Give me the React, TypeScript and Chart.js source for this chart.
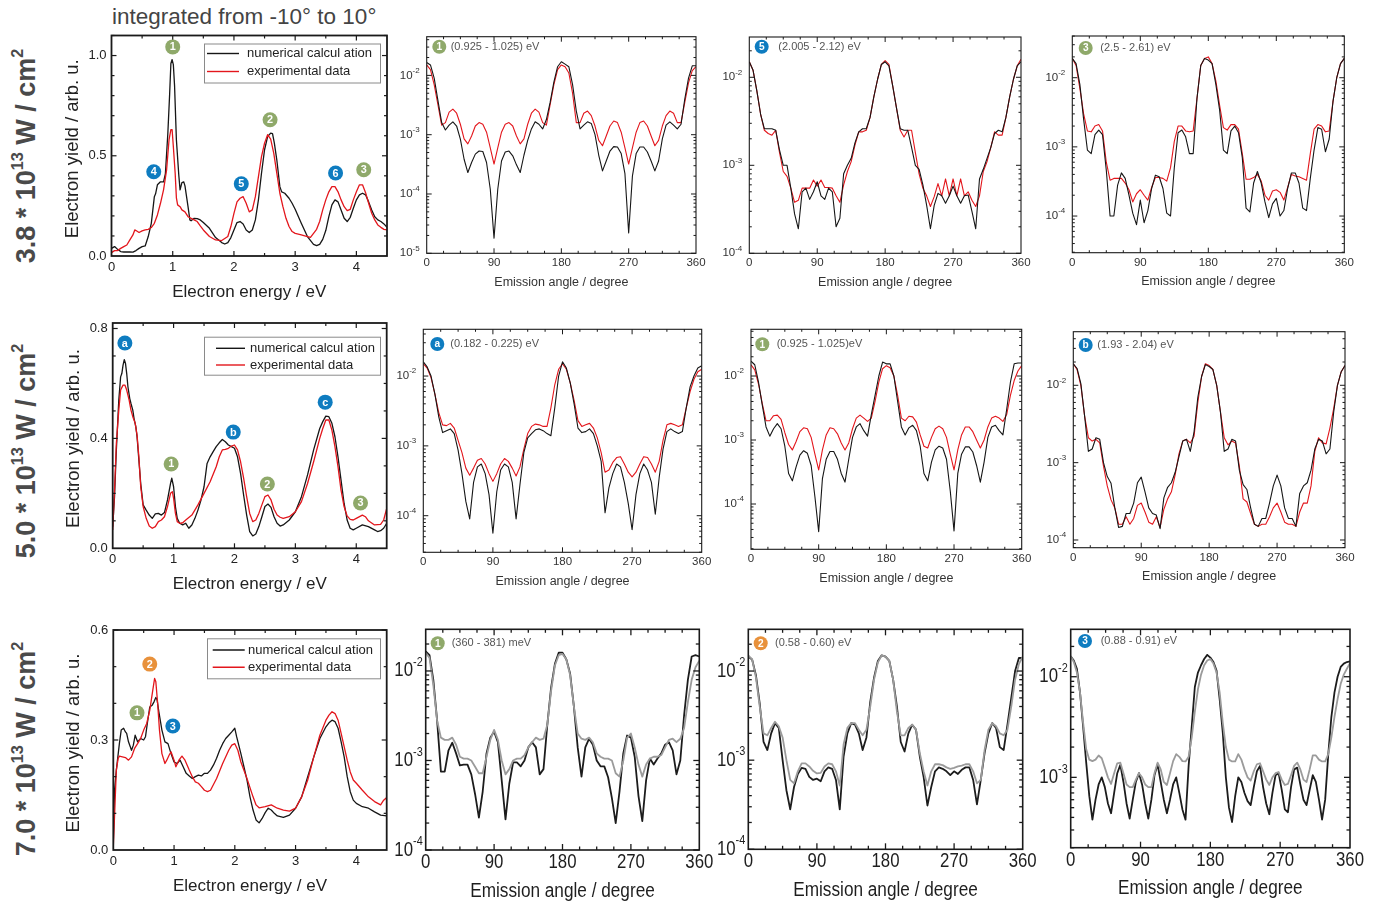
import React, { useEffect, useRef } from "react";
import { Chart, registerables } from "chart.js";

Chart.register(...registerables);

const W = 1382;
const H = 905;
const FONT = '"Liberation Sans", Arial, Helvetica, sans-serif';

const GREEN = "#8fa96a";
const BLUE = "#0e7cc0";
const ORANGE = "#e8913b";
const RED = "#e3161c";
const BLACK = "#161616";
const GRAY = "#9b9b9b";

// ---------- axes / categories ----------
const ANG5 = [
  0, 5, 10, 15, 20, 25, 30, 35, 40,
  45, 50, 55, 60, 65, 70, 75, 80, 85,
  90, 95, 100, 105, 110, 115, 120, 125, 130,
  135, 140, 145, 150, 155, 160, 165, 170, 175,
  180, 185, 190, 195, 200, 205, 210, 215, 220,
  225, 230, 235, 240, 245, 250, 255, 260, 265,
  270, 275, 280, 285, 290, 295, 300, 305, 310,
  315, 320, 325, 330, 335, 340, 345, 350, 355,
  360,
];
const ANG4 = [
  0, 4, 8, 12, 16, 20, 24, 28, 32, 36,
  40, 44, 48, 52, 56, 60, 64, 68, 72, 76,
  80, 84, 88, 92, 96, 100, 104, 108, 112, 116,
  120, 124, 128, 132, 136, 140, 144, 148, 152, 156,
  160, 164, 168, 172, 176, 180, 184, 188, 192, 196,
  200, 204, 208, 212, 216, 220, 224, 228, 232, 236,
  240, 244, 248, 252, 256, 260, 264, 268, 272, 276,
  280, 284, 288, 292, 296, 300, 304, 308, 312, 316,
  320, 324, 328, 332, 336, 340, 344, 348, 352, 356,
  360,
];
const ANGLE_TICKS = [0, 90, 180, 270, 360];
const ENERGY_TICKS = [0, 1, 2, 3, 4];
const Y_TICKS_1 = [0, 0.5, 1.0];
const Y_TICKS_2 = [0, 0.4, 0.8];
const Y_TICKS_3 = [0, 0.3, 0.6];

const LEGEND_LABELS = ["numerical calcul ation", "experimental data"];
const ROW_INTENSITY = ["3.8", "5.0", "7.0"];

// ---------- energy spectra (energy eV, yield arb. u.) ----------
type Pt = [number, number];

const P1_CALC: Pt[] = [
  [0, 0.038], [0.05, 0.047], [0.1, 0.033], [0.15, 0.022], [0.2, 0.02], [0.3, 0.02], [0.35, 0.019], [0.4, 0.027],
  [0.45, 0.038], [0.5, 0.047], [0.55, 0.05], [0.6, 0.097], [0.65, 0.163], [0.7, 0.296], [0.72, 0.31], [0.75, 0.355],
  [0.8, 0.37], [0.85, 0.37], [0.88, 0.41], [0.92, 0.61], [0.95, 0.81], [0.97, 0.96], [0.99, 0.98], [1.01, 0.955],
  [1.03, 0.85], [1.06, 0.58], [1.1, 0.4], [1.12, 0.33], [1.15, 0.366], [1.18, 0.37], [1.2, 0.35], [1.25, 0.246],
  [1.28, 0.18], [1.3, 0.176], [1.35, 0.188], [1.4, 0.186], [1.45, 0.18], [1.5, 0.167], [1.6, 0.138], [1.7, 0.092],
  [1.8, 0.067], [1.85, 0.06], [1.9, 0.067], [1.95, 0.092], [2.0, 0.13], [2.05, 0.167], [2.1, 0.172], [2.15, 0.16],
  [2.2, 0.13], [2.25, 0.117], [2.3, 0.13], [2.35, 0.18], [2.4, 0.28], [2.45, 0.413], [2.5, 0.53], [2.55, 0.596],
  [2.6, 0.613], [2.63, 0.61], [2.66, 0.563], [2.7, 0.48], [2.75, 0.346], [2.78, 0.32], [2.83, 0.313], [2.9, 0.288],
  [2.95, 0.263], [3.0, 0.233], [3.1, 0.163], [3.2, 0.097], [3.3, 0.058], [3.35, 0.052], [3.4, 0.058], [3.45, 0.083],
  [3.5, 0.127], [3.55, 0.196], [3.6, 0.255], [3.65, 0.28], [3.7, 0.27], [3.75, 0.23], [3.8, 0.188], [3.85, 0.172],
  [3.9, 0.193], [3.95, 0.238], [4.0, 0.28], [4.05, 0.305], [4.1, 0.313], [4.15, 0.305], [4.2, 0.27], [4.25, 0.23],
  [4.3, 0.196], [4.35, 0.18], [4.4, 0.172], [4.45, 0.16], [4.5, 0.143],
];
const P1_EXP: Pt[] = [
  [0, 0.017], [0.05, 0.027], [0.1, 0.027], [0.15, 0.038], [0.2, 0.047], [0.25, 0.055], [0.3, 0.08], [0.35, 0.105],
  [0.38, 0.13], [0.4, 0.127], [0.45, 0.117], [0.5, 0.125], [0.55, 0.13], [0.6, 0.133], [0.65, 0.142], [0.7, 0.163],
  [0.75, 0.205], [0.8, 0.263], [0.85, 0.33], [0.9, 0.43], [0.94, 0.58], [0.97, 0.63], [0.99, 0.63], [1.01, 0.546],
  [1.04, 0.413], [1.06, 0.29], [1.08, 0.255], [1.12, 0.246], [1.15, 0.23], [1.2, 0.22], [1.25, 0.196], [1.3, 0.188],
  [1.35, 0.18], [1.4, 0.172], [1.45, 0.15], [1.5, 0.13], [1.6, 0.097], [1.7, 0.08], [1.8, 0.077], [1.9, 0.097],
  [1.95, 0.147], [2.0, 0.213], [2.05, 0.27], [2.1, 0.288], [2.15, 0.296], [2.2, 0.263], [2.25, 0.22], [2.3, 0.23],
  [2.35, 0.296], [2.4, 0.396], [2.45, 0.496], [2.5, 0.563], [2.55, 0.605], [2.6, 0.583], [2.65, 0.513], [2.7, 0.413],
  [2.75, 0.313], [2.8, 0.246], [2.85, 0.188], [2.9, 0.147], [2.95, 0.122], [3.0, 0.113], [3.1, 0.105], [3.2, 0.097],
  [3.25, 0.093], [3.3, 0.113], [3.35, 0.133], [3.4, 0.172], [3.45, 0.23], [3.5, 0.28], [3.55, 0.32], [3.6, 0.346],
  [3.65, 0.346], [3.7, 0.32], [3.75, 0.28], [3.8, 0.246], [3.85, 0.226], [3.9, 0.233], [3.95, 0.28], [4.0, 0.32],
  [4.05, 0.355], [4.1, 0.355], [4.15, 0.316], [4.2, 0.263], [4.25, 0.213], [4.3, 0.18], [4.35, 0.155], [4.4, 0.143],
  [4.45, 0.133], [4.5, 0.13],
];
const P5_CALC: Pt[] = [
  [0, 0.079], [0.03, 0.188], [0.06, 0.358], [0.1, 0.54], [0.13, 0.624], [0.15, 0.636], [0.17, 0.667], [0.19, 0.687],
  [0.21, 0.673], [0.23, 0.636], [0.25, 0.588], [0.28, 0.545], [0.3, 0.527], [0.33, 0.503], [0.35, 0.473], [0.38, 0.442],
  [0.4, 0.406], [0.43, 0.321], [0.46, 0.236], [0.5, 0.158], [0.55, 0.139], [0.6, 0.121], [0.65, 0.109], [0.7, 0.125],
  [0.75, 0.127], [0.8, 0.121], [0.85, 0.13], [0.9, 0.176], [0.95, 0.236], [0.97, 0.255], [1.0, 0.224], [1.03, 0.152],
  [1.06, 0.109], [1.1, 0.091], [1.15, 0.085], [1.2, 0.091], [1.25, 0.073], [1.3, 0.085], [1.35, 0.109], [1.4, 0.139],
  [1.45, 0.176], [1.5, 0.224], [1.55, 0.309], [1.6, 0.333], [1.65, 0.352], [1.7, 0.37], [1.75, 0.384], [1.8, 0.396],
  [1.85, 0.388], [1.9, 0.376], [1.95, 0.37], [2.0, 0.364], [2.05, 0.333], [2.1, 0.273], [2.15, 0.194], [2.2, 0.121],
  [2.25, 0.061], [2.3, 0.045], [2.35, 0.052], [2.4, 0.079], [2.45, 0.115], [2.5, 0.152], [2.55, 0.161], [2.6, 0.149],
  [2.65, 0.115], [2.7, 0.091], [2.75, 0.081], [2.8, 0.085], [2.9, 0.103], [3.0, 0.133], [3.1, 0.188], [3.2, 0.267],
  [3.3, 0.358], [3.4, 0.436], [3.45, 0.461], [3.5, 0.481], [3.55, 0.479], [3.6, 0.455], [3.65, 0.406], [3.7, 0.333],
  [3.75, 0.248], [3.8, 0.164], [3.85, 0.103], [3.9, 0.073], [3.95, 0.067], [4.0, 0.073], [4.1, 0.085], [4.2, 0.079],
  [4.3, 0.067], [4.35, 0.061], [4.4, 0.064], [4.45, 0.073], [4.5, 0.091],
];
const P5_EXP: Pt[] = [
  [0, 0.067], [0.03, 0.212], [0.06, 0.382], [0.1, 0.503], [0.13, 0.576], [0.17, 0.594], [0.2, 0.594], [0.23, 0.576],
  [0.27, 0.539], [0.3, 0.503], [0.33, 0.479], [0.37, 0.455], [0.4, 0.412], [0.43, 0.333], [0.46, 0.224], [0.5, 0.152],
  [0.55, 0.109], [0.6, 0.081], [0.65, 0.073], [0.7, 0.079], [0.75, 0.097], [0.8, 0.103], [0.85, 0.115], [0.9, 0.152],
  [0.95, 0.2], [0.98, 0.206], [1.0, 0.182], [1.03, 0.127], [1.06, 0.097], [1.1, 0.091], [1.15, 0.093], [1.2, 0.103],
  [1.3, 0.121], [1.4, 0.158], [1.5, 0.2], [1.6, 0.242], [1.7, 0.297], [1.75, 0.333], [1.8, 0.358], [1.85, 0.36],
  [1.9, 0.364], [1.95, 0.372], [2.0, 0.376], [2.05, 0.358], [2.1, 0.315], [2.15, 0.255], [2.2, 0.188], [2.25, 0.127],
  [2.3, 0.097], [2.35, 0.103], [2.4, 0.127], [2.45, 0.158], [2.5, 0.188], [2.55, 0.194], [2.6, 0.176], [2.65, 0.142],
  [2.7, 0.121], [2.75, 0.113], [2.8, 0.109], [2.9, 0.115], [3.0, 0.133], [3.1, 0.17], [3.2, 0.236], [3.3, 0.315],
  [3.4, 0.4], [3.45, 0.436], [3.5, 0.467], [3.55, 0.467], [3.6, 0.43], [3.65, 0.37], [3.7, 0.297], [3.75, 0.212],
  [3.8, 0.152], [3.85, 0.118], [3.9, 0.105], [3.95, 0.103], [4.0, 0.109], [4.1, 0.121], [4.15, 0.115], [4.2, 0.1],
  [4.3, 0.085], [4.4, 0.087], [4.45, 0.103], [4.5, 0.145],
];
const P9_CALC: Pt[] = [
  [0, 0.018], [0.02, 0.163], [0.05, 0.218], [0.1, 0.29], [0.13, 0.327], [0.17, 0.332], [0.2, 0.322], [0.22, 0.318],
  [0.25, 0.295], [0.3, 0.272], [0.33, 0.286], [0.36, 0.313], [0.38, 0.304], [0.4, 0.295], [0.45, 0.304], [0.5, 0.3],
  [0.53, 0.309], [0.56, 0.345], [0.6, 0.39], [0.64, 0.395], [0.67, 0.404], [0.7, 0.416], [0.72, 0.41], [0.75, 0.377],
  [0.8, 0.327], [0.85, 0.295], [0.9, 0.29], [0.95, 0.263], [1.0, 0.24], [1.05, 0.236], [1.1, 0.245], [1.15, 0.227],
  [1.2, 0.209], [1.25, 0.202], [1.3, 0.195], [1.35, 0.2], [1.4, 0.204], [1.45, 0.202], [1.5, 0.209], [1.55, 0.209],
  [1.6, 0.218], [1.65, 0.232], [1.7, 0.25], [1.75, 0.272], [1.8, 0.29], [1.85, 0.304], [1.9, 0.313], [1.95, 0.322],
  [2.0, 0.332], [2.03, 0.309], [2.1, 0.263], [2.15, 0.227], [2.2, 0.191], [2.25, 0.145], [2.3, 0.109], [2.35, 0.082],
  [2.4, 0.074], [2.45, 0.086], [2.5, 0.102], [2.55, 0.114], [2.6, 0.109], [2.65, 0.1], [2.7, 0.093], [2.75, 0.091],
  [2.8, 0.089], [2.9, 0.095], [3.0, 0.114], [3.1, 0.145], [3.2, 0.2], [3.3, 0.254], [3.4, 0.304], [3.5, 0.336],
  [3.55, 0.347], [3.6, 0.354], [3.65, 0.35], [3.7, 0.332], [3.75, 0.295], [3.8, 0.254], [3.85, 0.2], [3.9, 0.159],
  [3.95, 0.136], [4.0, 0.127], [4.1, 0.118], [4.2, 0.114], [4.3, 0.104], [4.4, 0.095], [4.5, 0.093],
];
const P9_EXP: Pt[] = [
  [0, 0.009], [0.02, 0.09], [0.05, 0.218], [0.08, 0.25], [0.1, 0.256], [0.15, 0.254], [0.2, 0.252], [0.25, 0.245],
  [0.3, 0.254], [0.35, 0.277], [0.4, 0.29], [0.45, 0.304], [0.5, 0.327], [0.55, 0.345], [0.6, 0.381], [0.65, 0.436],
  [0.68, 0.468], [0.7, 0.459], [0.73, 0.4], [0.76, 0.327], [0.8, 0.263], [0.85, 0.236], [0.88, 0.245], [0.92, 0.259],
  [0.95, 0.268], [1.0, 0.245], [1.03, 0.227], [1.08, 0.245], [1.13, 0.256], [1.18, 0.245], [1.25, 0.218], [1.3, 0.2],
  [1.35, 0.186], [1.4, 0.182], [1.45, 0.173], [1.5, 0.163], [1.55, 0.159], [1.6, 0.163], [1.7, 0.195], [1.8, 0.236],
  [1.9, 0.272], [1.95, 0.286], [2.0, 0.29], [2.05, 0.272], [2.1, 0.24], [2.2, 0.195], [2.3, 0.145], [2.35, 0.123],
  [2.4, 0.115], [2.5, 0.118], [2.6, 0.123], [2.7, 0.114], [2.8, 0.109], [2.9, 0.106], [3.0, 0.114], [3.1, 0.145],
  [3.2, 0.191], [3.3, 0.254], [3.4, 0.313], [3.5, 0.354], [3.55, 0.368], [3.6, 0.377], [3.65, 0.372], [3.7, 0.354],
  [3.75, 0.318], [3.8, 0.282], [3.85, 0.245], [3.9, 0.213], [3.95, 0.191], [4.0, 0.182], [4.1, 0.163], [4.2, 0.145],
  [4.3, 0.132], [4.4, 0.123], [4.45, 0.136], [4.5, 0.143],
];

// ---------- angular distributions (on ANG5 / ANG4) ----------
const P2_CALC = [
  1.65e-2, 1.5e-2, 9e-3, 3.8e-3, 1.6e-3, 1.2e-3, 1.45e-3, 1.65e-3, 1.4e-3,
  8.4e-4, 3.85e-4, 2.3e-4, 3.4e-4, 4.7e-4, 5.3e-4, 5.2e-4, 3.4e-4, 1.2e-4,
  1.8e-5, 1.2e-4, 3.6e-4, 5.1e-4, 5.3e-4, 4.4e-4, 3.1e-4, 2.3e-4, 4.5e-4,
  8e-4, 1.25e-3, 1.65e-3, 1.5e-3, 1.25e-3, 1.8e-3, 3.5e-3, 7.7e-3, 1.4e-2,
  1.7e-2, 1.55e-2, 1.4e-2, 7e-3, 2.5e-3, 1.25e-3, 1.45e-3, 1.65e-3, 1.55e-3,
  1e-3, 4.5e-4, 2.45e-4, 3.6e-4, 5.3e-4, 6.3e-4, 6.2e-4, 4.8e-4, 2.2e-4,
  2.2e-5, 2e-4, 4.8e-4, 6.2e-4, 6.2e-4, 5.1e-4, 3.6e-4, 2.45e-4, 3.6e-4,
  8.5e-4, 1.45e-3, 1.65e-3, 1.45e-3, 1.25e-3, 1.5e-3, 4e-3, 9e-3, 1.45e-2,
  1.45e-2,
];
const P2_EXP = [
  1.5e-2, 1.25e-2, 7e-3, 3.2e-3, 1.45e-3, 1.6e-3, 2.4e-3, 2.7e-3, 2.3e-3,
  1.5e-3, 8.5e-4, 7e-4, 9.5e-4, 1.4e-3, 1.6e-3, 1.5e-3, 1.1e-3, 6e-4,
  3.2e-4, 6e-4, 1.1e-3, 1.5e-3, 1.6e-3, 1.4e-3, 9.5e-4, 7e-4, 8.5e-4,
  1.5e-3, 2.3e-3, 2.7e-3, 2.4e-3, 1.6e-3, 1.45e-3, 3.2e-3, 7e-3, 1.25e-2,
  1.5e-2, 1.4e-2, 1.1e-2, 5e-3, 1.6e-3, 1.6e-3, 2.3e-3, 2.5e-3, 2.1e-3,
  1.4e-3, 8e-4, 6.5e-4, 9.5e-4, 1.4e-3, 1.7e-3, 1.6e-3, 1.1e-3, 6e-4,
  3.2e-4, 6e-4, 1.1e-3, 1.6e-3, 1.7e-3, 1.4e-3, 9.5e-4, 6.5e-4, 8e-4,
  1.4e-3, 2.1e-3, 2.5e-3, 2.3e-3, 1.6e-3, 1.6e-3, 3.5e-3, 7.5e-3, 1.2e-2,
  1.4e-2,
];
const P3_CALC = [
  1.5e-2, 1.2e-2, 7e-3, 3.8e-3, 2.6e-3, 2.6e-3, 2.6e-3, 2.5e-3, 1.5e-3,
  1e-3, 1e-3, 5.5e-4, 2.8e-4, 1.9e-4, 5e-4, 5.5e-4, 4.1e-4, 5e-4,
  6.5e-4, 4.5e-4, 4.1e-4, 5.5e-4, 5e-4, 2e-4, 2.5e-4, 8e-4, 1e-3,
  1.2e-3, 1.8e-3, 2.4e-3, 2.6e-3, 2.6e-3, 3.5e-3, 6e-3, 9.5e-3, 1.4e-2,
  1.5e-2, 1.35e-2, 8e-3, 4.5e-3, 2.6e-3, 2.5e-3, 2.5e-3, 1.6e-3, 1e-3,
  9e-4, 6e-4, 3.5e-4, 1.9e-4, 3.5e-4, 4.8e-4, 4.5e-4, 3.7e-4, 4.5e-4,
  5.8e-4, 4.5e-4, 3.7e-4, 4.5e-4, 4.6e-4, 3e-4, 1.9e-4, 7e-4, 9e-4,
  1.2e-3, 1.6e-3, 2.3e-3, 2.5e-3, 2.4e-3, 3.5e-3, 6e-3, 9.5e-3, 1.35e-2,
  1.5e-2,
];
const P3_EXP = [
  1.5e-2, 1.2e-2, 7e-3, 3.8e-3, 2.5e-3, 2.3e-3, 2.2e-3, 2.5e-3, 1.4e-3,
  8.5e-4, 7.5e-4, 5.5e-4, 3.8e-4, 4e-4, 5.5e-4, 5.5e-4, 5.5e-4, 6.8e-4,
  5.8e-4, 6.8e-4, 5.6e-4, 5.6e-4, 5.5e-4, 4.5e-4, 3.8e-4, 6e-4, 8.5e-4,
  1.1e-3, 1.7e-3, 2.4e-3, 2.4e-3, 2.5e-3, 3.5e-3, 6e-3, 9.5e-3, 1.4e-2,
  1.55e-2, 1.4e-2, 8e-3, 4.5e-3, 2.5e-3, 2.1e-3, 2.5e-3, 2.5e-3, 1.4e-3,
  8e-4, 5.5e-4, 4.5e-4, 3.4e-4, 4.4e-4, 6.2e-4, 4.5e-4, 7e-4, 4.5e-4,
  7e-4, 4.5e-4, 7e-4, 4.5e-4, 5e-4, 4e-4, 3.4e-4, 4.5e-4, 8.5e-4,
  1.1e-3, 1.6e-3, 2.4e-3, 2.2e-3, 2.2e-3, 3.5e-3, 6e-3, 9.5e-3, 1.35e-2,
  1.6e-2,
];
const P4_CALC = [
  1.9e-2, 1.6e-2, 8e-3, 2.5e-3, 9e-4, 8e-4, 1.5e-3, 1.75e-3, 1.5e-3,
  4.6e-4, 1e-4, 1e-4, 2.8e-4, 4.2e-4, 3.5e-4, 2e-4, 1.1e-4, 7.5e-5,
  1.7e-4, 8e-5, 1.2e-4, 2.5e-4, 3.9e-4, 3.7e-4, 2.5e-4, 1.1e-4, 1e-4,
  5e-4, 1.6e-3, 1.75e-3, 1.4e-3, 8e-4, 8e-4, 5e-3, 1.5e-2, 1.9e-2,
  1.8e-2, 1.6e-2, 8e-3, 3.4e-3, 9e-4, 8e-4, 1.7e-3, 2e-3, 1.6e-3,
  7e-4, 1.3e-4, 1.15e-4, 3e-4, 4.4e-4, 3e-4, 1.6e-4, 9.5e-5, 1.5e-4,
  1.8e-4, 1e-4, 1.2e-4, 2.5e-4, 4.2e-4, 4.2e-4, 3e-4, 1.3e-4, 1.2e-4,
  3.5e-4, 9e-4, 1.9e-3, 1.8e-3, 8.5e-4, 1.3e-3, 4.5e-3, 1e-2, 1.6e-2,
  1.9e-2,
];
const P4_EXP = [
  1.9e-2, 1.5e-2, 7e-3, 3e-3, 1.7e-3, 1.65e-3, 2e-3, 2.1e-3, 1.7e-3,
  6e-4, 3.3e-4, 3.5e-4, 3.5e-4, 3.5e-4, 3e-4, 2.4e-4, 1.6e-4, 2.1e-4,
  2.4e-4, 2e-4, 1.7e-4, 2.6e-4, 3.6e-4, 3.6e-4, 3.5e-4, 3.2e-4, 5e-4,
  1.2e-3, 2e-3, 2e-3, 1.7e-3, 1.65e-3, 1.7e-3, 5e-3, 1.5e-2, 1.9e-2,
  2e-2, 1.6e-2, 9e-3, 4e-3, 1.9e-3, 1.75e-3, 2.1e-3, 2.1e-3, 1.8e-3,
  8e-4, 3.4e-4, 3.4e-4, 3.6e-4, 4e-4, 3.2e-4, 2e-4, 1.7e-4, 2.3e-4,
  2.4e-4, 2.2e-4, 1.7e-4, 2.6e-4, 4e-4, 3.8e-4, 3.7e-4, 3.5e-4, 3.3e-4,
  8e-4, 1.8e-3, 2.1e-3, 2e-3, 1.65e-3, 1.7e-3, 4.5e-3, 1e-2, 1.6e-2,
  1.9e-2,
];
const P6_CALC = [
  1.6e-2, 1.35e-2, 1e-2, 5.5e-3, 2.6e-3, 1.55e-3, 1.65e-3, 1.75e-3, 1.5e-3,
  8.7e-4, 4e-4, 1.6e-4, 9e-5, 3e-4, 5e-4, 5.5e-4, 4e-4, 2e-4,
  5.6e-5, 2.2e-4, 4.5e-4, 5.5e-4, 5e-4, 3e-4, 9e-5, 2.8e-4, 8e-4,
  1.3e-3, 1.5e-3, 1.7e-3, 1.75e-3, 1.65e-3, 1.5e-3, 1.4e-3, 3.5e-3, 1e-2,
  1.6e-2, 1.3e-2, 8e-3, 4e-3, 1.8e-3, 1.55e-3, 1.6e-3, 1.75e-3, 1.5e-3,
  1e-3, 6e-4, 1.1e-4, 2.5e-4, 4e-4, 5.5e-4, 5e-4, 3e-4, 1.5e-4,
  6.3e-5, 2e-4, 4e-4, 5.5e-4, 4.5e-4, 3e-4, 1.05e-4, 3.5e-4, 9e-4,
  1.6e-3, 1.75e-3, 1.6e-3, 1.5e-3, 1.6e-3, 3.5e-3, 7e-3, 1e-2, 1.3e-2,
  1.4e-2,
];
const P6_EXP = [
  1.5e-2, 1.3e-2, 9.5e-3, 5.5e-3, 3e-3, 2e-3, 1.95e-3, 2.1e-3, 1.8e-3,
  1.2e-3, 8e-4, 4.8e-4, 3.8e-4, 4.8e-4, 6.2e-4, 6.6e-4, 5.5e-4, 4e-4,
  3.1e-4, 4e-4, 5.5e-4, 6.6e-4, 6e-4, 4.8e-4, 3.7e-4, 5e-4, 9e-4,
  1.5e-3, 1.9e-3, 2.05e-3, 2e-3, 1.9e-3, 1.9e-3, 3.5e-3, 7.5e-3, 1.25e-2,
  1.5e-2, 1.25e-2, 8e-3, 4.5e-3, 2.3e-3, 1.9e-3, 2e-3, 2.1e-3, 1.8e-3,
  1.3e-3, 8e-4, 4.2e-4, 4.5e-4, 5.8e-4, 6.8e-4, 7e-4, 5.5e-4, 4.2e-4,
  3.6e-4, 4.2e-4, 5.5e-4, 7e-4, 6.8e-4, 5.5e-4, 4.2e-4, 6e-4, 1.2e-3,
  2e-3, 2.1e-3, 2e-3, 1.9e-3, 2e-3, 3.5e-3, 6e-3, 9e-3, 1.15e-2,
  1.25e-2,
];
const P7_CALC = [
  1.7e-2, 1.5e-2, 8e-3, 3.5e-3, 1.6e-3, 1.15e-3, 1.5e-3, 1.8e-3, 1.5e-3,
  8e-4, 3e-4, 2.3e-4, 3.8e-4, 5.8e-4, 6.8e-4, 6.2e-4, 4e-4, 1.3e-4,
  3.7e-5, 2.5e-4, 5e-4, 6.6e-4, 6.6e-4, 5e-4, 3e-4, 2.2e-4, 5e-4,
  1.1e-3, 1.6e-3, 1.8e-3, 1.4e-3, 1.15e-3, 2.5e-3, 5e-3, 1e-2, 1.65e-2,
  1.55e-2, 1.55e-2, 1e-2, 4e-3, 1.6e-3, 1.2e-3, 1.55e-3, 1.7e-3, 1.4e-3,
  8e-4, 3e-4, 2.3e-4, 4.5e-4, 7e-4, 8e-4, 7.5e-4, 5e-4, 1.6e-4,
  3.8e-5, 3e-4, 6e-4, 7.8e-4, 7.8e-4, 6.5e-4, 4e-4, 2.2e-4, 4.5e-4,
  1.1e-3, 1.6e-3, 1.7e-3, 1.4e-3, 1.2e-3, 3e-3, 8e-3, 1.55e-2, 1.6e-2,
  1.6e-2,
];
const P7_EXP = [
  1.5e-2, 1.25e-2, 7.5e-3, 3.7e-3, 2e-3, 2e-3, 2.4e-3, 2.45e-3, 2.1e-3,
  1.3e-3, 8.5e-4, 7e-4, 9.5e-4, 1.35e-3, 1.55e-3, 1.5e-3, 1.1e-3, 6e-4,
  3.4e-4, 7e-4, 1.2e-3, 1.55e-3, 1.5e-3, 1.25e-3, 9e-4, 7e-4, 9e-4,
  1.5e-3, 2.2e-3, 2.45e-3, 2.2e-3, 1.95e-3, 2.2e-3, 4e-3, 8e-3, 1.3e-2,
  1.45e-2, 1.35e-2, 1e-2, 5e-3, 2.2e-3, 2e-3, 2.35e-3, 2.3e-3, 1.9e-3,
  1.2e-3, 8e-4, 7.5e-4, 1.1e-3, 1.5e-3, 1.65e-3, 1.5e-3, 1.1e-3, 6e-4,
  3.4e-4, 7e-4, 1.2e-3, 1.6e-3, 1.6e-3, 1.35e-3, 1e-3, 7.5e-4, 1e-3,
  1.6e-3, 2.2e-3, 2.35e-3, 2.2e-3, 1.95e-3, 2.5e-3, 5e-3, 8.5e-3, 1.2e-2,
  1.45e-2,
];
const P8_CALC = [
  1.9e-2, 1.65e-2, 1.05e-2, 4e-3, 1.4e-3, 1.5e-3, 2.1e-3, 2e-3, 1e-3,
  6.6e-4, 5.4e-4, 2.6e-4, 1.45e-4, 1.5e-4, 2.2e-4, 2.2e-4, 3e-4, 5.5e-4,
  6.5e-4, 4.2e-4, 2.6e-4, 2.2e-4, 2.1e-4, 1.4e-4, 3.5e-4, 4.8e-4, 5.5e-4,
  7.5e-4, 1.2e-3, 1.9e-3, 2e-3, 1.4e-3, 2.5e-3, 7e-3, 1.3e-2, 1.85e-2,
  1.75e-2, 1.6e-2, 1e-2, 4.5e-3, 1.4e-3, 1.5e-3, 2e-3, 1.9e-3, 8e-4,
  5.2e-4, 4.5e-4, 2.6e-4, 1.6e-4, 1.5e-4, 1.9e-4, 1.9e-4, 3e-4, 5e-4,
  6.9e-4, 5e-4, 2.6e-4, 1.9e-4, 1.9e-4, 1.5e-4, 4e-4, 5e-4, 5.5e-4,
  8e-4, 1.5e-3, 2e-3, 1.9e-3, 1.3e-3, 1.5e-3, 4.5e-3, 1e-2, 1.5e-2,
  1.8e-2,
];
const P8_EXP = [
  1.9e-2, 1.6e-2, 1e-2, 4e-3, 2.1e-3, 1.9e-3, 2e-3, 1.8e-3, 9e-4,
  5e-4, 3.3e-4, 2.6e-4, 1.6e-4, 1.6e-4, 2e-4, 1.6e-4, 1.9e-4, 2.8e-4,
  3e-4, 2.3e-4, 1.7e-4, 1.6e-4, 2e-4, 1.45e-4, 2.5e-4, 3.4e-4, 4.2e-4,
  7e-4, 1.3e-3, 1.9e-3, 2e-3, 1.8e-3, 2.2e-3, 6e-3, 1.3e-2, 1.9e-2,
  1.8e-2, 1.6e-2, 1e-2, 4.5e-3, 2.1e-3, 1.7e-3, 1.9e-3, 1.8e-3, 9e-4,
  3.4e-4, 3.1e-4, 2.2e-4, 1.6e-4, 1.5e-4, 1.6e-4, 1.6e-4, 2e-4, 2.6e-4,
  3e-4, 2.3e-4, 1.7e-4, 1.6e-4, 1.6e-4, 1.5e-4, 2.3e-4, 3e-4, 3e-4,
  5e-4, 1.4e-3, 2.1e-3, 1.8e-3, 1.75e-3, 2.8e-3, 5e-3, 1e-2, 1.5e-2,
  1.8e-2,
];
const P10_CALC = [
  1.65e-2, 1.5e-2, 8e-3, 2.8e-3, 7.5e-4, 7.5e-4, 1.3e-3, 1.58e-3, 1.2e-3,
  8.8e-4, 9e-4, 9e-4, 7e-4, 4.2e-4, 2.3e-4, 4.5e-4, 1.2e-3, 1.8e-3,
  2.1e-3, 1.6e-3, 6e-4, 2.2e-4, 5.5e-4, 9.5e-4, 9.5e-4, 8.6e-4, 1e-3,
  1.4e-3, 1.6e-3, 1.4e-3, 7e-4, 8e-4, 2.5e-3, 6.5e-3, 1.2e-2, 1.6e-2,
  1.6e-2, 1.35e-2, 9.4e-3, 4e-3, 1.4e-3, 6.6e-4, 1.4e-3, 1.75e-3, 1.5e-3,
  1e-3, 8.6e-4, 8.6e-4, 6.5e-4, 3.8e-4, 2e-4, 4.5e-4, 1.2e-3, 1.9e-3,
  1.8e-3, 1.1e-3, 4e-4, 2.1e-4, 6e-4, 1.05e-3, 9e-4, 1.05e-3, 1.2e-3,
  1.5e-3, 1.6e-3, 1.3e-3, 7e-4, 1e-3, 3.2e-3, 8e-3, 1.45e-2, 1.5e-2,
  1.45e-2,
];
const P10_EXP = [
  1.6e-2, 1.4e-2, 7e-3, 2.8e-3, 1.8e-3, 1.7e-3, 1.7e-3, 1.8e-3, 1.5e-3,
  1.1e-3, 1.05e-3, 1.05e-3, 1e-3, 8.5e-4, 7.2e-4, 7.2e-4, 1.1e-3, 1.7e-3,
  2.2e-3, 1.7e-3, 1e-3, 7e-4, 8e-4, 1e-3, 1.05e-3, 1.05e-3, 1.15e-3,
  1.4e-3, 1.6e-3, 1.8e-3, 1.7e-3, 1.75e-3, 2.5e-3, 6e-3, 1.15e-2, 1.5e-2,
  1.55e-2, 1.35e-2, 9e-3, 4e-3, 2e-3, 1.75e-3, 1.7e-3, 1.8e-3, 1.6e-3,
  1.2e-3, 1.1e-3, 1.05e-3, 1.05e-3, 1e-3, 7.2e-4, 6.6e-4, 1e-3, 1.8e-3,
  2e-3, 1.4e-3, 9e-4, 6.6e-4, 9e-4, 1.05e-3, 1.1e-3, 1.1e-3, 1.15e-3,
  1.4e-3, 1.7e-3, 1.75e-3, 1.6e-3, 1.75e-3, 2.3e-3, 4.5e-3, 8e-3, 1.1e-2,
  1.3e-2,
];
const P11_CALC = [
  1.45e-2, 1.35e-2, 9e-3, 4.3e-3, 1.6e-3, 1.3e-3, 2e-3, 2.6e-3, 2.3e-3,
  1e-3, 4.6e-4, 2.8e-4, 5e-4, 7e-4, 8.2e-4, 8e-4, 6.5e-4, 6e-4,
  6.2e-4, 5.8e-4, 7.5e-4, 8.3e-4, 8e-4, 6e-4, 2.8e-4, 1.1e-3, 2e-3,
  2.6e-3, 2.5e-3, 2e-3, 1.3e-3, 1.8e-3, 4.5e-3, 8.5e-3, 1.3e-2, 1.5e-2,
  1.45e-2, 1.3e-2, 8e-3, 4e-3, 1.6e-3, 1.25e-3, 2e-3, 2.5e-3, 2.2e-3,
  1.1e-3, 6.5e-4, 3.1e-4, 5e-4, 7.5e-4, 8.3e-4, 8e-4, 7.5e-4, 6.8e-4,
  7.5e-4, 7e-4, 7.8e-4, 8.3e-4, 8.3e-4, 6e-4, 3.2e-4, 6e-4, 1.2e-3,
  2e-3, 2.6e-3, 2.3e-3, 1.4e-3, 1.3e-3, 2.5e-3, 5e-3, 1e-2, 1.4e-2,
  1.4e-2,
];
const P11_EXP = [
  1.5e-2, 1.35e-2, 8.5e-3, 4e-3, 2e-3, 1.9e-3, 2.3e-3, 2.7e-3, 2.4e-3,
  1.8e-3, 1e-3, 6e-4, 5.5e-4, 7.5e-4, 9.2e-4, 9.2e-4, 8.5e-4, 7.6e-4,
  7.1e-4, 7.2e-4, 8.5e-4, 9.2e-4, 9e-4, 7.5e-4, 5.2e-4, 1.5e-3, 2.3e-3,
  2.6e-3, 2.6e-3, 2.2e-3, 1.9e-3, 2.2e-3, 4e-3, 8e-3, 1.25e-2, 1.5e-2,
  1.45e-2, 1.3e-2, 8e-3, 3.5e-3, 1.9e-3, 1.9e-3, 2.3e-3, 2.5e-3, 2.2e-3,
  1.2e-3, 7.5e-4, 5.2e-4, 7.5e-4, 9e-4, 9e-4, 8.8e-4, 8.3e-4, 8e-4,
  8.2e-4, 8.5e-4, 8.7e-4, 9e-4, 9e-4, 7.5e-4, 5.5e-4, 6e-4, 1.3e-3,
  2.2e-3, 2.6e-3, 2.4e-3, 2e-3, 1.9e-3, 2.2e-3, 4e-3, 8e-3, 1.2e-2,
  1.45e-2,
];
const P12_CALC = [
  1.6e-2, 1.45e-2, 1.2e-2, 7e-3, 3.2e-3, 1.4e-3, 6.5e-4, 3.8e-4, 6e-4, 8.5e-4,
  1e-3, 8e-4, 5.5e-4, 4.4e-4, 7e-4, 1.1e-3, 1.33e-3, 9e-4, 5.5e-4, 3.9e-4,
  6e-4, 9e-4, 1.1e-3, 8.5e-4, 5.5e-4, 3.9e-4, 6e-4, 1.05e-3, 1.35e-3, 9e-4,
  6e-4, 4.4e-4, 6e-4, 8.5e-4, 1e-3, 7e-4, 4.8e-4, 3.8e-4, 1.3e-3, 3.2e-3,
  7.9e-3, 1.1e-2, 1.3e-2, 1.5e-2, 1.65e-2, 1.55e-2, 1.4e-2, 1.15e-2, 6e-3, 2.8e-3,
  1e-3, 5e-4, 3.6e-4, 6.5e-4, 1e-3, 9e-4, 7e-4, 5.8e-4, 5.3e-4, 8e-4,
  1.15e-3, 1.3e-3, 8e-4, 5.5e-4, 4.3e-4, 7e-4, 1.05e-3, 1.1e-3, 7.5e-4, 4.8e-4,
  4.5e-4, 8e-4, 1.2e-3, 1.25e-3, 8.5e-4, 6e-4, 5.3e-4, 7.5e-4, 1.05e-3, 9e-4,
  6e-4, 3.8e-4, 6e-4, 1.7e-3, 4e-3, 7e-3, 1e-2, 1.25e-2, 1.35e-2, 1.4e-2,
  1.42e-2,
];
const P12_EXP = [
  1.6e-2, 1.4e-2, 1.1e-2, 7e-3, 3.5e-3, 1.9e-3, 1.5e-3, 1.45e-3, 1.5e-3, 1.65e-3,
  1.55e-3, 1.25e-3, 1e-3, 8.6e-4, 1.1e-3, 1.38e-3, 1.4e-3, 1.1e-3, 8.5e-4, 8e-4,
  8e-4, 9.5e-4, 1.1e-3, 1e-3, 8.5e-4, 8e-4, 8e-4, 1.1e-3, 1.4e-3, 1.2e-3,
  9e-4, 8.4e-4, 1.1e-3, 1.45e-3, 1.7e-3, 1.6e-3, 1.45e-3, 1.44e-3, 1.6e-3, 2.5e-3,
  4.5e-3, 7.5e-3, 1.05e-2, 1.3e-2, 1.45e-2, 1.5e-2, 1.35e-2, 1.1e-2, 7e-3, 3.5e-3,
  2e-3, 1.5e-3, 1.44e-3, 1.44e-3, 1.7e-3, 1.5e-3, 1.2e-3, 1e-3, 9.3e-4, 1.15e-3,
  1.35e-3, 1.38e-3, 1.15e-3, 9.5e-4, 8.4e-4, 1e-3, 1.1e-3, 1.13e-3, 9.5e-4, 8.4e-4,
  8.6e-4, 1.05e-3, 1.3e-3, 1.4e-3, 1.2e-3, 9.5e-4, 9e-4, 1.2e-3, 1.65e-3, 1.65e-3,
  1.5e-3, 1.44e-3, 1.44e-3, 1.7e-3, 2.5e-3, 4e-3, 6e-3, 8.5e-3, 1.05e-2, 1.2e-2,
  1.36e-2,
];

// ---------- peak markers on the spectra ----------
const P1_PEAKS = [
  { e: 1.0, v: 1.043, t: "1", c: GREEN },
  { e: 2.59, v: 0.68, t: "2", c: GREEN },
  { e: 4.12, v: 0.43, t: "3", c: GREEN },
  { e: 0.69, v: 0.42, t: "4", c: BLUE },
  { e: 2.12, v: 0.36, t: "5", c: BLUE },
  { e: 3.66, v: 0.414, t: "6", c: BLUE },
];
const P5_PEAKS = [
  { e: 0.2, v: 0.747, t: "a", c: BLUE },
  { e: 0.96, v: 0.307, t: "1", c: GREEN },
  { e: 1.98, v: 0.423, t: "b", c: BLUE },
  { e: 2.54, v: 0.234, t: "2", c: GREEN },
  { e: 3.49, v: 0.532, t: "c", c: BLUE },
  { e: 4.07, v: 0.165, t: "3", c: GREEN },
];
const P9_PEAKS = [
  { e: 0.6, v: 0.507, t: "2", c: ORANGE },
  { e: 0.39, v: 0.374, t: "1", c: GREEN },
  { e: 0.98, v: 0.338, t: "3", c: BLUE },
];

// ---------- helpers ----------
type XY = { x: number; y: number };
const fromPairs = (p: Pt[]): XY[] => p.map(([x, y]) => ({ x, y }));
const fromGrid = (xs: number[], ys: number[]): XY[] => xs.map((x, i) => ({ x, y: ys[i] }));

type Style = {
  frameW: number; tickW: number; major: number; minor: number;
  tick: number; sup: number; sx: number; xLab: number; yGap: number;
  title: number; titleSx: number; titleOff: number; color: string;
};
const ANG_SMALL: Style = { frameW: 1.1, tickW: 1, major: 5, minor: 2.5, tick: 11.5, sup: 8, sx: 1, xLab: 10, yGap: 7, title: 12.5, titleSx: 1, titleOff: 29, color: "#333" };
const ANG_BIG: Style = { frameW: 1.6, tickW: 1.3, major: 6, minor: 3.5, tick: 20, sup: 13, sx: 0.84, xLab: 12.5, yGap: 3, title: 20, titleSx: 0.86, titleOff: 41, color: "#1e1e1e" };
const EN: Style = { frameW: 1.8, tickW: 1.2, major: 5, minor: 3, tick: 13, sup: 0, sx: 1, xLab: 11, yGap: 5, title: 17, titleSx: 1, titleOff: 36, color: "#222" };

type LineSpec = { pts: XY[]; color: string; width: number };
type Panel = {
  box: [number, number, number, number];
  log: boolean;
  xMin: number; xMax: number; yMin: number; yMax: number;
  xTicks: number[]; xMinor: number;
  yTicks?: number[]; yMinor?: number;
  style: Style;
  lines: LineSpec[];
  xTitle: string;
  yTitle?: string;
  tag?: { mark: string; color: string; text: string; dx: number; dy: number; tx: number };
  legend?: { dr: number; dt: number; w: number; h: number; l0: number; l1: number; tx: number; dys: number[] };
  peaks?: { e: number; v: number; t: string; c: string }[];
};

function drawText(
  ctx: CanvasRenderingContext2D, s: string, x: number, y: number, size: number, color: string,
  align: CanvasTextAlign = "center", sx = 1, weight = "normal", baseline: CanvasTextBaseline = "middle"
) {
  ctx.save();
  ctx.font = `${weight} ${size}px ${FONT}`;
  ctx.fillStyle = color;
  ctx.textAlign = align;
  ctx.textBaseline = baseline;
  ctx.translate(x, y);
  ctx.scale(sx, 1);
  ctx.fillText(s, 0, 0);
  ctx.restore();
}

function badge(ctx: CanvasRenderingContext2D, x: number, y: number, r: number, color: string, t: string) {
  ctx.save();
  ctx.beginPath();
  ctx.arc(x, y, r, 0, Math.PI * 2);
  ctx.fillStyle = color;
  ctx.fill();
  ctx.restore();
  drawText(ctx, t, x, y + 0.5, r * 1.45, "#fff", "center", 1, "bold");
}

function makePlugin(p: Panel) {
  return {
    id: "deco",
    afterDatasetsDraw(chart: any) {
      const ctx: CanvasRenderingContext2D = chart.ctx;
      const xs = chart.scales.x;
      const ys = chart.scales.y;
      const { left, right, top, bottom } = chart.chartArea;
      const st = p.style;
      const seg = (x1: number, y1: number, x2: number, y2: number) => {
        ctx.beginPath(); ctx.moveTo(x1, y1); ctx.lineTo(x2, y2); ctx.stroke();
      };
      ctx.save();
      ctx.strokeStyle = "#1a1a1a";
      ctx.lineWidth = st.frameW;
      ctx.strokeRect(left, top, right - left, bottom - top);
      ctx.lineWidth = st.tickW;

      // x ticks
      const nx = Math.round((p.xMax - p.xMin) / p.xMinor);
      for (let i = 0; i <= nx; i++) {
        const v = p.xMin + i * p.xMinor;
        const px = xs.getPixelForValue(v);
        const isMajor = p.xTicks.some((t) => Math.abs(t - v) < 1e-6);
        const len = isMajor ? st.major : st.minor;
        if (i > 0 && i < nx) { seg(px, bottom, px, bottom - len); seg(px, top, px, top + len); }
      }
      p.xTicks.forEach((t) => {
        const px = xs.getPixelForValue(t);
        drawText(ctx, String(t), px, bottom + st.xLab, st.tick, st.color, "center", st.sx);
      });

      // y ticks
      if (p.log) {
        const lo = Math.floor(Math.log10(p.yMin));
        const hi = Math.ceil(Math.log10(p.yMax));
        for (let e = lo; e <= hi; e++) {
          for (let m = 1; m <= 9; m++) {
            const v = m * Math.pow(10, e);
            if (v < p.yMin * 0.999 || v > p.yMax * 1.001) continue;
            const py = ys.getPixelForValue(v);
            const len = m === 1 ? st.major : st.minor;
            seg(left, py, left + len, py);
            seg(right, py, right - len, py);
            if (m === 1) {
              const exp = "-" + String(-e);
              ctx.font = `${st.sup}px ${FONT}`;
              const sw = ctx.measureText(exp).width * st.sx;
              const xr = left - st.yGap;
              drawText(ctx, exp, xr - sw, py - st.tick * 0.42, st.sup, st.color, "left", st.sx);
              drawText(ctx, "10", xr - sw, py, st.tick, st.color, "right", st.sx);
            }
          }
        }
      } else if (p.yTicks && p.yMinor) {
        const ny = Math.floor((p.yMax - p.yMin) / p.yMinor + 1e-6);
        for (let i = 0; i <= ny; i++) {
          const v = p.yMin + i * p.yMinor;
          const py = ys.getPixelForValue(v);
          const isMajor = p.yTicks.some((t) => Math.abs(t - v) < 1e-6);
          const len = isMajor ? st.major : st.minor;
          if (i > 0) { seg(left, py, left + len, py); seg(right, py, right - len, py); }
        }
        p.yTicks.forEach((t) => {
          const py = ys.getPixelForValue(t);
          drawText(ctx, t.toFixed(1), left - st.yGap, py, st.tick, st.color, "right", st.sx);
        });
      }

      // titles
      drawText(ctx, p.xTitle, (left + right) / 2, bottom + st.titleOff, st.title, st.color, "center", st.titleSx);
      if (p.yTitle) {
        ctx.save();
        ctx.translate(left - 39, (top + bottom) / 2 + 3);
        ctx.rotate(-Math.PI / 2);
        drawText(ctx, p.yTitle, 0, 0, 18.5, st.color, "center");
        ctx.restore();
      }

      // tag (angular panels)
      if (p.tag) {
        const t = p.tag;
        badge(ctx, left + t.dx, top + t.dy, 7, t.color, t.mark);
        drawText(ctx, t.text, left + t.tx, top + t.dy, 11, "#555", "left");
      }

      // legend
      if (p.legend) {
        const lg = p.legend;
        const bx = right - lg.dr - lg.w;
        const by = top + lg.dt;
        ctx.strokeStyle = "#8a8a8a";
        ctx.lineWidth = 1;
        ctx.strokeRect(bx + 0.5, by + 0.5, lg.w, lg.h);
        const cols = [BLACK, RED];
        lg.dys.forEach((dy, i) => {
          ctx.strokeStyle = cols[i];
          ctx.lineWidth = 1.4;
          seg(bx + lg.l0, by + dy, bx + lg.l1, by + dy);
          drawText(ctx, LEGEND_LABELS[i], bx + lg.tx, by + dy, 13, "#222", "left");
        });
      }

      // peak markers
      if (p.peaks) {
        p.peaks.forEach((pk) => {
          badge(ctx, xs.getPixelForValue(pk.e), ys.getPixelForValue(pk.v), 7.5, pk.c, pk.t);
        });
      }
      ctx.restore();
    },
  };
}

// ---------- panels ----------
const angLines = (xs: number[], calc: number[], exp: number[], big: boolean): LineSpec[] =>
  big
    ? [
        { pts: fromGrid(xs, exp), color: GRAY, width: 1.8 },
        { pts: fromGrid(xs, calc), color: "#1c1c1c", width: 1.8 },
      ]
    : [
        { pts: fromGrid(xs, calc), color: BLACK, width: 1.1 },
        { pts: fromGrid(xs, exp), color: RED, width: 1.1 },
      ];

const energyLines = (calc: Pt[], exp: Pt[]): LineSpec[] => [
  { pts: fromPairs(exp), color: RED, width: 1.3 },
  { pts: fromPairs(calc), color: BLACK, width: 1.3 },
];

const angBase = { log: true, xMin: 0, xMax: 360, xTicks: ANGLE_TICKS, xMinor: 22.5, xTitle: "Emission angle / degree" };
const enBase = { log: false, xMin: 0, xMax: 4.5, xTicks: ENERGY_TICKS, xMinor: 0.5, yMin: 0, yMinor: 0.1, style: EN, xTitle: "Electron energy / eV", yTitle: "Electron yield / arb. u." };

const PANELS: Panel[] = [
  {
    ...enBase, box: [111.5, 35.5, 387, 256], yMax: 1.1, yTicks: Y_TICKS_1,
    lines: energyLines(P1_CALC, P1_EXP), peaks: P1_PEAKS,
    legend: { dr: 7, dt: 8, w: 176, h: 39, l0: 3, l1: 35, tx: 43, dys: [10, 28] },
  },
  {
    ...angBase, box: [426.7, 36.7, 696, 253.3], yMin: 1e-5, yMax: 0.0449, style: ANG_SMALL,
    lines: angLines(ANG5, P2_CALC, P2_EXP, false),
    tag: { mark: "1", color: GREEN, text: "(0.925 - 1.025) eV", dx: 12.6, dy: 10, tx: 24 },
  },
  {
    ...angBase, box: [749.3, 37, 1021, 253.3], yMin: 1e-4, yMax: 0.0287, style: ANG_SMALL,
    lines: angLines(ANG5, P3_CALC, P3_EXP, false),
    tag: { mark: "5", color: BLUE, text: "(2.005 - 2.12) eV", dx: 12.4, dy: 9.7, tx: 29 },
  },
  {
    ...angBase, box: [1072.3, 36, 1344.3, 252.7], yMin: 2.95e-5, yMax: 0.0401, style: ANG_SMALL,
    lines: angLines(ANG5, P4_CALC, P4_EXP, false),
    tag: { mark: "3", color: GREEN, text: "(2.5 - 2.61) eV", dx: 13.4, dy: 12, tx: 28 },
  },
  {
    ...enBase, box: [112.7, 323, 386.7, 548.3], yMax: 0.82, yTicks: Y_TICKS_2,
    lines: energyLines(P5_CALC, P5_EXP), peaks: P5_PEAKS,
    legend: { dr: 6.7, dt: 13.7, w: 176, h: 38, l0: 12, l1: 41, tx: 46, dys: [11.6, 28.3] },
  },
  {
    ...angBase, box: [423.3, 329.3, 701.7, 552.3], yMin: 2.99e-5, yMax: 0.0467, style: ANG_SMALL,
    lines: angLines(ANG5, P6_CALC, P6_EXP, false),
    tag: { mark: "a", color: BLUE, text: "(0.182 - 0.225) eV", dx: 14, dy: 14.7, tx: 27 },
  },
  {
    ...angBase, box: [751, 329.3, 1021.7, 549.3], yMin: 1.96e-5, yMax: 0.0537, style: ANG_SMALL,
    lines: angLines(ANG5, P7_CALC, P7_EXP, false),
    tag: { mark: "1", color: GREEN, text: "(0.925 - 1.025)eV", dx: 11.3, dy: 15, tx: 25.7 },
  },
  {
    ...angBase, box: [1073.3, 331.7, 1345, 547.7], yMin: 7.95e-5, yMax: 0.0493, style: ANG_SMALL,
    lines: angLines(ANG5, P8_CALC, P8_EXP, false),
    tag: { mark: "b", color: BLUE, text: "(1.93 - 2.04) eV", dx: 12.4, dy: 13.3, tx: 24 },
  },
  {
    ...enBase, box: [113.3, 630, 386.7, 850], yMax: 0.6, yTicks: Y_TICKS_3,
    lines: energyLines(P9_CALC, P9_EXP), peaks: P9_PEAKS,
    legend: { dr: 6.7, dt: 8.3, w: 173, h: 40, l0: 5.7, l1: 37.7, tx: 41, dys: [11.7, 29] },
  },
  {
    ...angBase, box: [425.7, 629.3, 699.3, 850], yMin: 1e-4, yMax: 0.0292, style: ANG_BIG,
    lines: angLines(ANG5, P10_CALC, P10_EXP, true),
    tag: { mark: "1", color: GREEN, text: "(360 - 381) meV", dx: 12, dy: 14, tx: 26 },
  },
  {
    ...angBase, box: [748.3, 629.3, 1022.7, 849.3], yMin: 1e-4, yMax: 0.0294, style: ANG_BIG,
    lines: angLines(ANG5, P11_CALC, P11_EXP, true),
    tag: { mark: "2", color: ORANGE, text: "(0.58 - 0.60) eV", dx: 12.4, dy: 14, tx: 26.7 },
  },
  {
    ...angBase, box: [1070.7, 629.3, 1350, 847.7], yMin: 2e-4, yMax: 0.0296, style: ANG_BIG,
    lines: angLines(ANG4, P12_CALC, P12_EXP, true),
    tag: { mark: "3", color: BLUE, text: "(0.88 - 0.91) eV", dx: 14.3, dy: 11.7, tx: 30 },
  },
];

function PanelChart({ p }: { p: Panel }) {
  const ref = useRef<HTMLCanvasElement>(null);
  useEffect(() => {
    const c = ref.current;
    if (!c) return;
    const chart = new Chart(c, {
      type: "line",
      data: {
        datasets: p.lines.map((l) => ({
          data: l.pts,
          borderColor: l.color,
          borderWidth: l.width,
          pointRadius: 0,
          tension: 0,
          fill: false,
          borderJoinStyle: "round" as const,
        })),
      },
      options: {
        animation: false,
        responsive: false,
        maintainAspectRatio: false,
        devicePixelRatio: 1,
        events: [],
        layout: { padding: { left: p.box[0], top: p.box[1], right: W - p.box[2], bottom: H - p.box[3] } },
        plugins: { legend: { display: false }, tooltip: { enabled: false }, title: { display: false } },
        scales: {
          x: { type: "linear", display: false, min: p.xMin, max: p.xMax },
          y: { type: p.log ? "logarithmic" : "linear", display: false, min: p.yMin, max: p.yMax },
        },
      } as any,
      plugins: [makePlugin(p)],
    });
    return () => chart.destroy();
  }, [p]);
  return (
    <canvas
      ref={ref}
      width={W}
      height={H}
      style={{ position: "absolute", left: 0, top: 0, width: W, height: H, pointerEvents: "none" }}
    />
  );
}

const ROW_CENTERS = [156, 451, 749];

export default function App() {
  const sup: React.CSSProperties = { fontSize: "0.6em", verticalAlign: "0.75em", lineHeight: 0 };
  return (
    <div style={{ position: "absolute", left: 0, top: 0, width: W, height: H, background: "#fff", overflow: "hidden" }}>
      <div
        style={{
          position: "absolute", left: 112, top: 4, fontFamily: FONT, fontSize: 22.5, lineHeight: "26px",
          color: "#444", whiteSpace: "nowrap",
        }}
      >
        integrated from -10° to 10°
      </div>
      {ROW_INTENSITY.map((v, i) => (
        <div
          key={v}
          style={{
            position: "absolute", left: 26, top: ROW_CENTERS[i], transform: "translate(-50%, -50%) rotate(-90deg)",
            whiteSpace: "nowrap", fontFamily: FONT, fontWeight: "bold", fontSize: 27, lineHeight: "32px", color: "#4a4a4a",
          }}
        >
          {v} * 10<sup style={sup}>13</sup> W / cm<sup style={sup}>2</sup>
        </div>
      ))}
      {PANELS.map((p, i) => (
        <PanelChart key={i} p={p} />
      ))}
    </div>
  );
}
